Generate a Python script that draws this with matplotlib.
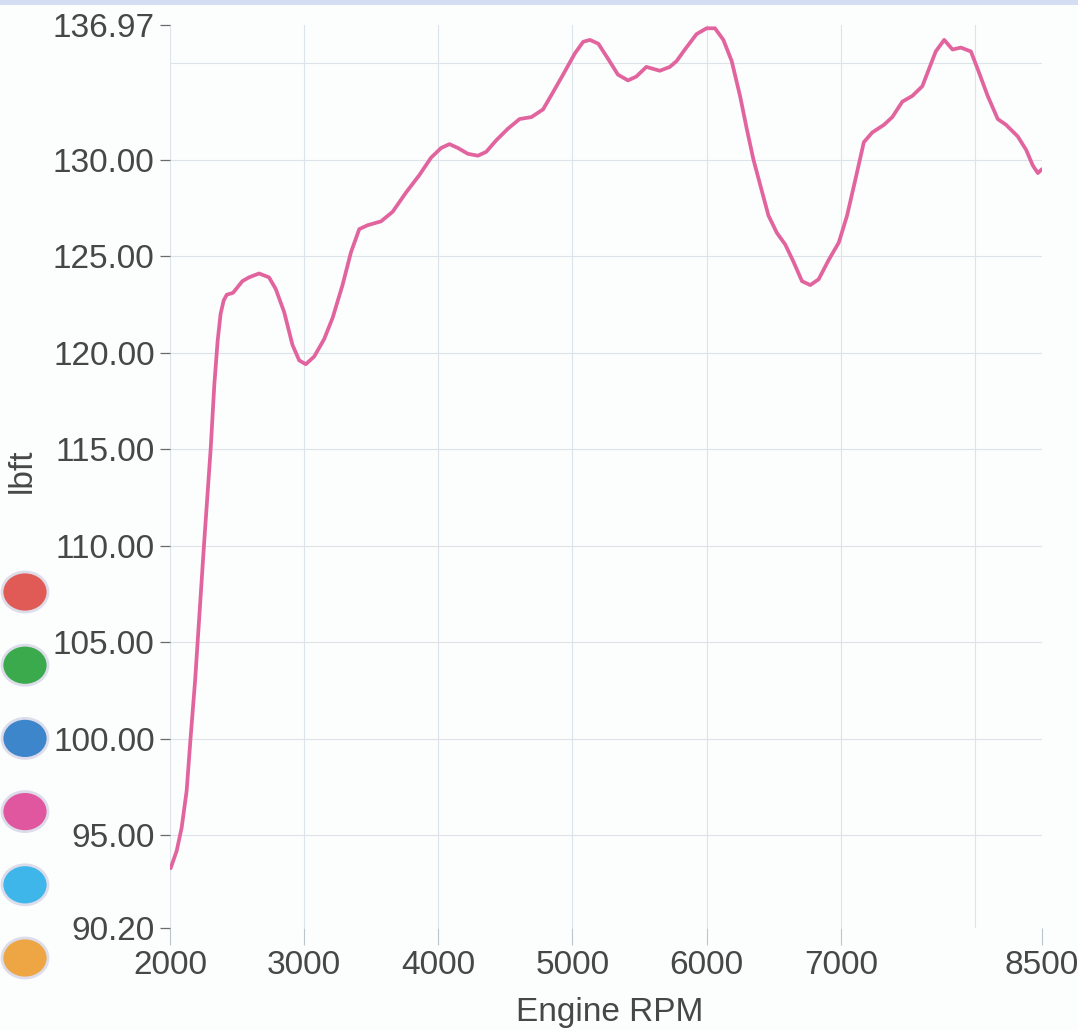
import matplotlib
matplotlib.use('Agg')
import matplotlib.pyplot as plt
from matplotlib.patches import Ellipse, Rectangle

plt.rcParams['font.family'] = ['Liberation Sans', 'DejaVu Sans']

# torque curve
rpm = [2005, 2050, 2087, 2124, 2154, 2187, 2220, 2254, 2304, 2330, 2355, 2377, 2400, 2423,
       2470, 2539, 2589, 2664, 2738, 2788, 2851, 2913, 2963, 3012, 3075, 3149, 3212, 3286,
       3349, 3411, 3473, 3573, 3660, 3760, 3859, 3946, 4021, 4083, 4146, 4220, 4295, 4357,
       4432, 4519, 4606, 4694, 4781, 4856, 4930, 5018, 5080, 5130, 5193, 5267, 5339, 5414,
       5476, 5551, 5601, 5651, 5726, 5776, 5838, 5925, 6000, 6062, 6125, 6187, 6249, 6299,
       6349, 6399, 6461, 6524, 6586, 6648, 6711, 6773, 6835, 6910, 6985, 7047, 7110, 7172,
       7234, 7322, 7384, 7459, 7534, 7608, 7658, 7708, 7771, 7833, 7895, 7970, 8020, 8095,
       8170, 8232, 8319, 8382, 8431, 8469, 8499]
torque = [93.3, 94.2, 95.4, 97.3, 100.1, 103.0, 106.5, 110.1, 115.1, 118.3, 120.6, 122.0, 122.7, 123.0,
          123.1, 123.7, 123.9, 124.1, 123.9, 123.3, 122.1, 120.4, 119.6, 119.4, 119.8, 120.7, 121.8, 123.5,
          125.2, 126.4, 126.6, 126.8, 127.3, 128.3, 129.2, 130.1, 130.6, 130.8, 130.6, 130.3, 130.2, 130.4,
          131.0, 131.6, 132.1, 132.2, 132.6, 133.5, 134.4, 135.5, 136.1, 136.2, 136.0, 135.2, 134.4, 134.1,
          134.3, 134.8, 134.7, 134.6, 134.8, 135.1, 135.7, 136.5, 136.8, 136.8, 136.2, 135.1, 133.3, 131.6,
          130.0, 128.7, 127.1, 126.2, 125.6, 124.7, 123.7, 123.5, 123.8, 124.8, 125.7, 127.1, 129.0, 130.9,
          131.4, 131.8, 132.2, 133.0, 133.3, 133.8, 134.7, 135.6, 136.2, 135.7, 135.8, 135.6, 134.7, 133.3,
          132.1, 131.8, 131.2, 130.5, 129.7, 129.3, 129.5]

x_ticks = [2000, 3000, 4000, 5000, 6000, 7000, 8500]
y_ticks = [90.20, 95, 100, 105, 110, 115, 120, 125, 130, 136.97]
x_grid = [2000, 3000, 4000, 5000, 6000, 7000, 8000]
y_grid = [95, 100, 105, 110, 115, 120, 125, 130, 135]
legend_colors = ['#e05a56', '#3aaa4c', '#3d86cb', '#e0579f', '#3fb6ea', '#eea645']

fig = plt.figure(figsize=(10.78, 10.31), dpi=100)
fig.patch.set_facecolor('#fcfdfd')
ax = fig.add_axes([170/1078, 1-928/1031, (1042-170)/1078, (928-25)/1031])
ax.set_facecolor('none')

for g in x_grid:
    ax.axvline(g, color='#dce4ea', lw=0.8, zorder=0)
for g in y_grid:
    ax.axhline(g, color='#dce4ea', lw=0.8, zorder=0)

ax.plot(rpm, torque, color='#e2649e', lw=2.7, solid_capstyle='round')

ax.set_xlim(2000, 8500)
ax.set_ylim(90.20, 136.97)
ax.set_xticks(x_ticks)
ax.set_xticklabels([str(v) for v in x_ticks])
ax.set_yticks(y_ticks)
ax.set_yticklabels(['%.2f' % v for v in y_ticks])
ax.tick_params(axis='x', length=12, width=0.8, color='#bcc4cc', pad=4,
               labelsize=24, labelcolor='#474747')
ax.tick_params(axis='y', length=7, width=0.9, color='#6a6a6a', pad=4,
               labelsize=24, labelcolor='#474747')
for s in ax.spines.values():
    s.set_visible(False)

fig.text(22/1078, 1-471/1031, 'lbft', rotation=90, ha='center', va='center',
         fontsize=24, color='#474747')
fig.text(610/1078, 1-1012/1031, 'Engine RPM', ha='center', va='center',
         fontsize=24, color='#474747')

# colored series dots down the left side
for i, c in enumerate(legend_colors):
    cy = 592 + i*73.2
    fig.add_artist(Ellipse((25/1078, 1-cy/1031), 46/1078, 40/1031, transform=fig.transFigure,
                           facecolor=c, edgecolor='#dcdcea', lw=2))

# scanned blue header strip at the top edge
fig.add_artist(Rectangle((0, 1-5/1031), 1, 5/1031, transform=fig.transFigure,
                         facecolor='#d4def2', edgecolor='none'))

fig.savefig('out.png', dpi=100, facecolor=fig.get_facecolor())
